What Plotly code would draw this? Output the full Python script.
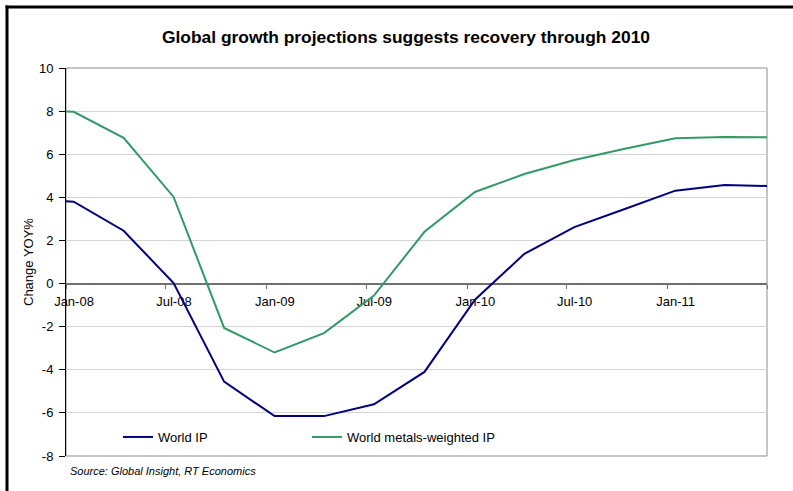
import plotly.graph_objects as go

# Quarterly observations (mid-month), YoY % change
dates = ["2007-10-15", "2008-01-15", "2008-04-15", "2008-07-15", "2008-10-15",
         "2009-01-15", "2009-04-15", "2009-07-15", "2009-10-15", "2010-01-15",
         "2010-04-15", "2010-07-15", "2010-10-15", "2011-01-15", "2011-04-15",
         "2011-07-15"]
world_ip = [3.95, 3.8, 2.45, 0.02, -4.55, -6.15, -6.15, -5.6, -4.1, -0.75,
            1.38, 2.62, 3.46, 4.31, 4.57, 4.52]
metals_ip = [8.05, 7.97, 6.76, 4.02, -2.06, -3.2, -2.3, -0.56, 2.4, 4.25,
             5.08, 5.73, 6.25, 6.74, 6.8, 6.79]

tick_dates = ["2008-01-01", "2008-07-01", "2009-01-01", "2009-07-01",
              "2010-01-01", "2010-07-01", "2011-01-01", "2011-07-01"]
tick_labels = ["Jan-08", "Jul-08", "Jan-09", "Jul-09", "Jan-10", "Jul-10",
               "Jan-11", ""]
y_ticks = [-8, -6, -4, -2, 0, 2, 4, 6, 8, 10]
y_tick_labels = ["-8", "-6", "-4", "-2", "0", "2", "4", "6", "8", "10"]

y_min, y_max = -8, 10
FONT = "Liberation Sans, Arial, sans-serif"

fig = go.Figure()
fig.add_trace(go.Scatter(x=dates, y=world_ip, mode="lines", name="World IP",
                         line=dict(color="#000080", width=2)))
fig.add_trace(go.Scatter(x=dates, y=metals_ip, mode="lines",
                         name="World metals-weighted IP",
                         line=dict(color="#339966", width=2)))

W, H = 793, 491
ml, mr, mt, mb = 66, 26, 68, 35
pw, ph = W - ml - mr, H - mt - mb


def px_x(px):
    return (px - ml) / pw


def px_y(py):
    return (H - mb - py) / ph


fig.update_layout(
    width=W, height=H,
    margin=dict(l=ml, r=mr, t=mt, b=mb),
    paper_bgcolor="white", plot_bgcolor="white",
    font=dict(family=FONT, size=13, color="black"),
    title=dict(text="<b>Global growth projections suggests recovery through 2010</b>",
               x=406 / W, xanchor="center", xref="container",
               y=1 - 37 / H, yanchor="middle", yref="container",
               font=dict(size=17.4, color="black")),
    xaxis=dict(type="date", range=["2008-01-01", "2011-07-01"],
               tickvals=tick_dates, ticktext=tick_labels,
               anchor="free", position=(0 - y_min) / (y_max - y_min),
               showline=True, linecolor="#707070", linewidth=2,
               ticks="outside", ticklen=4, tickcolor="#707070", tickwidth=1,
               showgrid=False, zeroline=False, ticklabelshift=8,
               ticklabelstandoff=2, layer="below traces",
               tickfont=dict(size=13)),
    yaxis=dict(range=[y_min, y_max], tickvals=y_ticks, ticktext=y_tick_labels,
               showgrid=True, gridcolor="#d4d4d4", gridwidth=1, zeroline=False,
               showline=True, linecolor="black", linewidth=1,
               ticks="outside", ticklen=6, tickcolor="black",
               ticklabelstandoff=3, tickfont=dict(size=13)),
    showlegend=True,
    legend=dict(orientation="h", x=px_x(118), y=px_y(437), xanchor="left",
                yanchor="middle", bgcolor="rgba(0,0,0,0)",
                font=dict(size=13), entrywidth=144, itemwidth=30),
)

# Plot-area border
fig.add_shape(type="rect", xref="paper", yref="paper", x0=0, x1=1, y0=0, y1=1,
              line=dict(color="#8c8c8c", width=1), layer="below")

# Outer frame (top and left edges)
fig.add_shape(type="line", xref="paper", yref="paper",
              x0=px_x(5.5), x1=px_x(W + 2), y0=px_y(7), y1=px_y(7),
              line=dict(color="black", width=3))
fig.add_shape(type="line", xref="paper", yref="paper",
              x0=px_x(7), x1=px_x(7), y0=px_y(5.5), y1=px_y(H + 2),
              line=dict(color="black", width=3))

fig.add_annotation(text="Change YOY%", xref="paper", yref="paper",
                   x=px_x(28), y=0.5, textangle=-90, showarrow=False,
                   xanchor="center", yanchor="middle", font=dict(size=13))
fig.add_annotation(text="<i>Source: Global Insight, RT Economics</i>",
                   xref="paper", yref="paper", x=px_x(68), y=px_y(471),
                   xanchor="left", yanchor="middle", showarrow=False,
                   font=dict(size=11))

fig.write_html("out.html")
